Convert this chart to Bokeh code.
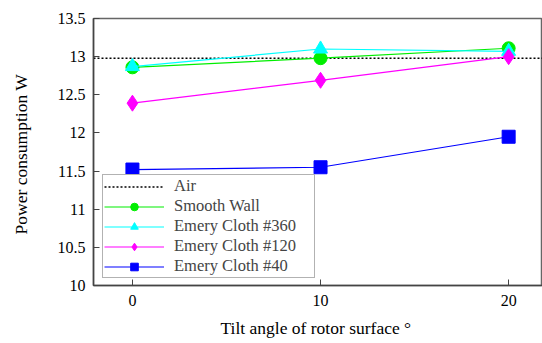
from bokeh.plotting import figure
from bokeh.models import FixedTicker, Range1d, Legend, LegendItem
from bokeh.embed import file_html
from bokeh.resources import INLINE

# ---- data ----
tilt = [0, 10, 20]
air_value = 12.98
smooth_wall = [12.86, 12.98, 13.11]
emery_360 = [12.87, 13.10, 13.07]
emery_120 = [12.39, 12.69, 13.00]
emery_40 = [11.52, 11.55, 11.95]
x_ticks = [0, 10, 20]
y_ticks = [10, 10.5, 11, 11.5, 12, 12.5, 13, 13.5]
y_tick_labels = ["10", "10.5", "11", "11.5", "12", "12.5", "13", "13.5"]
series_names = ["Air", "Smooth Wall", "Emery Cloth #360", "Emery Cloth #120", "Emery Cloth #40"]

FONT = "Liberation Serif"
x_start, x_end = -2.07, 21.8

p = figure(width=542, height=343, output_backend="svg", toolbar_location=None,
           x_range=Range1d(x_start, x_end), y_range=Range1d(10, 13.5),
           min_border_left=93, min_border_right=0, min_border_top=18, min_border_bottom=58)
p.xgrid.visible = False
p.ygrid.visible = False
p.outline_line_color = "#666666"
p.outline_line_width = 1.5
p.background_fill_color = "white"
p.border_fill_color = "white"

for ax in (p.xaxis, p.yaxis):
    ax.axis_line_color = "#444444"
    ax.axis_line_width = 1.5
    ax.major_tick_in = 6
    ax.major_tick_out = 0
    ax.minor_tick_line_color = None
    ax.major_tick_line_color = "#444444"
    ax.major_label_text_font = FONT
    ax.major_label_text_font_size = "16px"
    ax.major_label_text_font_style = "normal"
    ax.major_label_text_color = "black"
    ax.axis_label_text_font = FONT
    ax.axis_label_text_font_size = "17.5px"
    ax.axis_label_text_font_style = "normal"
    ax.axis_label_text_color = "black"

p.xaxis.ticker = FixedTicker(ticks=x_ticks)
p.yaxis.ticker = FixedTicker(ticks=y_ticks)
p.yaxis.major_label_overrides = {t: l for t, l in zip(y_ticks, y_tick_labels)}
p.xaxis.major_label_standoff = 9
p.yaxis.major_label_standoff = 8
p.xaxis.axis_label = "Tilt angle of rotor surface  \u00b0"
p.yaxis.axis_label = "Power consumption  W"
p.xaxis.axis_label_standoff = 9
p.yaxis.axis_label_standoff = 24

r_air = p.line([x_start, x_end], [air_value, air_value], line_color="black",
               line_dash="2 2", line_width=1.5)

def series(y, color, marker, size):
    l = p.line(tilt, y, line_color=color, line_width=1.2)
    m = p.scatter(tilt, y, marker=marker, size=size, fill_color=color, line_color=color)
    return [l, m]

r_sw = series(smooth_wall, "#00ee00", "circle", 13)
r_360 = series(emery_360, "#00ffff", "triangle", 14)
r_120 = series(emery_120, "#ff00ff", "diamond", 16)
r_40 = series(emery_40, "#0000ff", "square", 13)

legend = Legend(items=[
    LegendItem(label=series_names[0], renderers=[r_air]),
    LegendItem(label=series_names[1], renderers=r_sw),
    LegendItem(label=series_names[2], renderers=r_360),
    LegendItem(label=series_names[3], renderers=r_120),
    LegendItem(label=series_names[4], renderers=r_40),
], location=(9, 7))
legend.border_line_color = "#666666"
legend.border_line_width = 1.5
legend.background_fill_alpha = 1
legend.label_text_font = FONT
legend.label_text_font_size = "16.5px"
legend.label_text_font_style = "normal"
legend.label_height = 19
legend.glyph_height = 19
legend.glyph_width = 60
legend.label_width = 139
legend.spacing = 0
legend.padding = 1
legend.margin = 0
legend.label_standoff = 10
p.add_layout(legend, "center")

open("out.html", "w").write(file_html(p, INLINE))
